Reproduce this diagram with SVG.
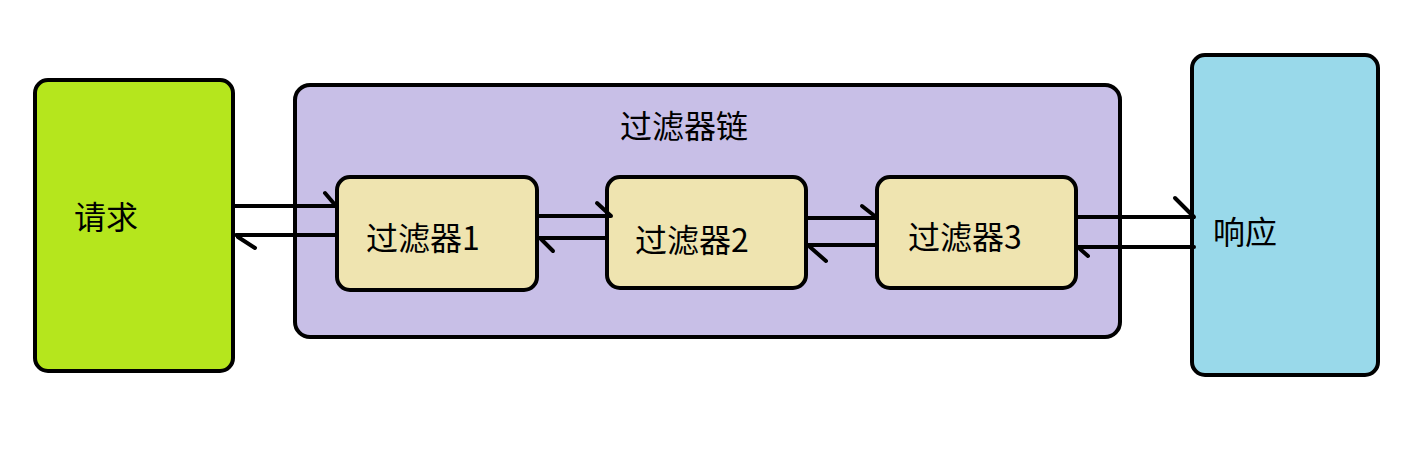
<svg xmlns="http://www.w3.org/2000/svg" width="1404" height="449" viewBox="0 0 1404 449">
<style>
.box{stroke:#000;stroke-width:4}
.t{font-family:"Noto Sans CJK SC","Liberation Sans",sans-serif;font-size:32px;fill:#000}
.c{stroke:#000;stroke-width:4;fill:none;stroke-linecap:round}
</style>
<rect width="1404" height="449" fill="#fff"/>
<g id="chain">
<rect class="box" x="295" y="85" width="825" height="252" rx="15" fill="#C8BFE7"/>
<text class="t" x="684" y="138" text-anchor="middle">过滤器链</text>
</g>
<g id="request">
<rect class="box" x="35" y="80" width="198" height="291" rx="13" fill="#B5E61D"/>
<text class="t" x="74" y="229">请求</text>
</g>
<g id="response">
<rect class="box" x="1192" y="55" width="186" height="320" rx="13" fill="#99D9EA"/>
<text class="t" x="1213" y="244">响应</text>
</g>
<g id="filter1">
<rect class="box" x="337" y="177" width="200" height="113" rx="13" fill="#EFE4B0"/>
<text class="t" x="366" y="250">过滤器1</text>
</g>
<g id="filter2">
<rect class="box" x="607" y="177" width="199" height="111" rx="13" fill="#EFE4B0"/>
<text class="t" x="635" y="252">过滤器2</text>
</g>
<g id="filter3">
<rect class="box" x="877" y="177" width="199" height="111" rx="13" fill="#EFE4B0"/>
<text class="t" x="908" y="249">过滤器3</text>
</g>
<g id="connectors">
<path class="c" d="M235 206H336M325 193L336 206"/>
<path class="c" d="M336 235H236M238 237L255 248"/>
<path class="c" d="M539 216H611M597 203L611 216"/>
<path class="c" d="M606 238H539M541 239L553 251"/>
<path class="c" d="M808 218H876M862 206L876 217"/>
<path class="c" d="M876 245H808M810 247L826 261"/>
<path class="c" d="M1078 217H1194M1175 198L1194 217"/>
<path class="c" d="M1194 247H1078M1080 249L1088 256"/>
</g>
</svg>
